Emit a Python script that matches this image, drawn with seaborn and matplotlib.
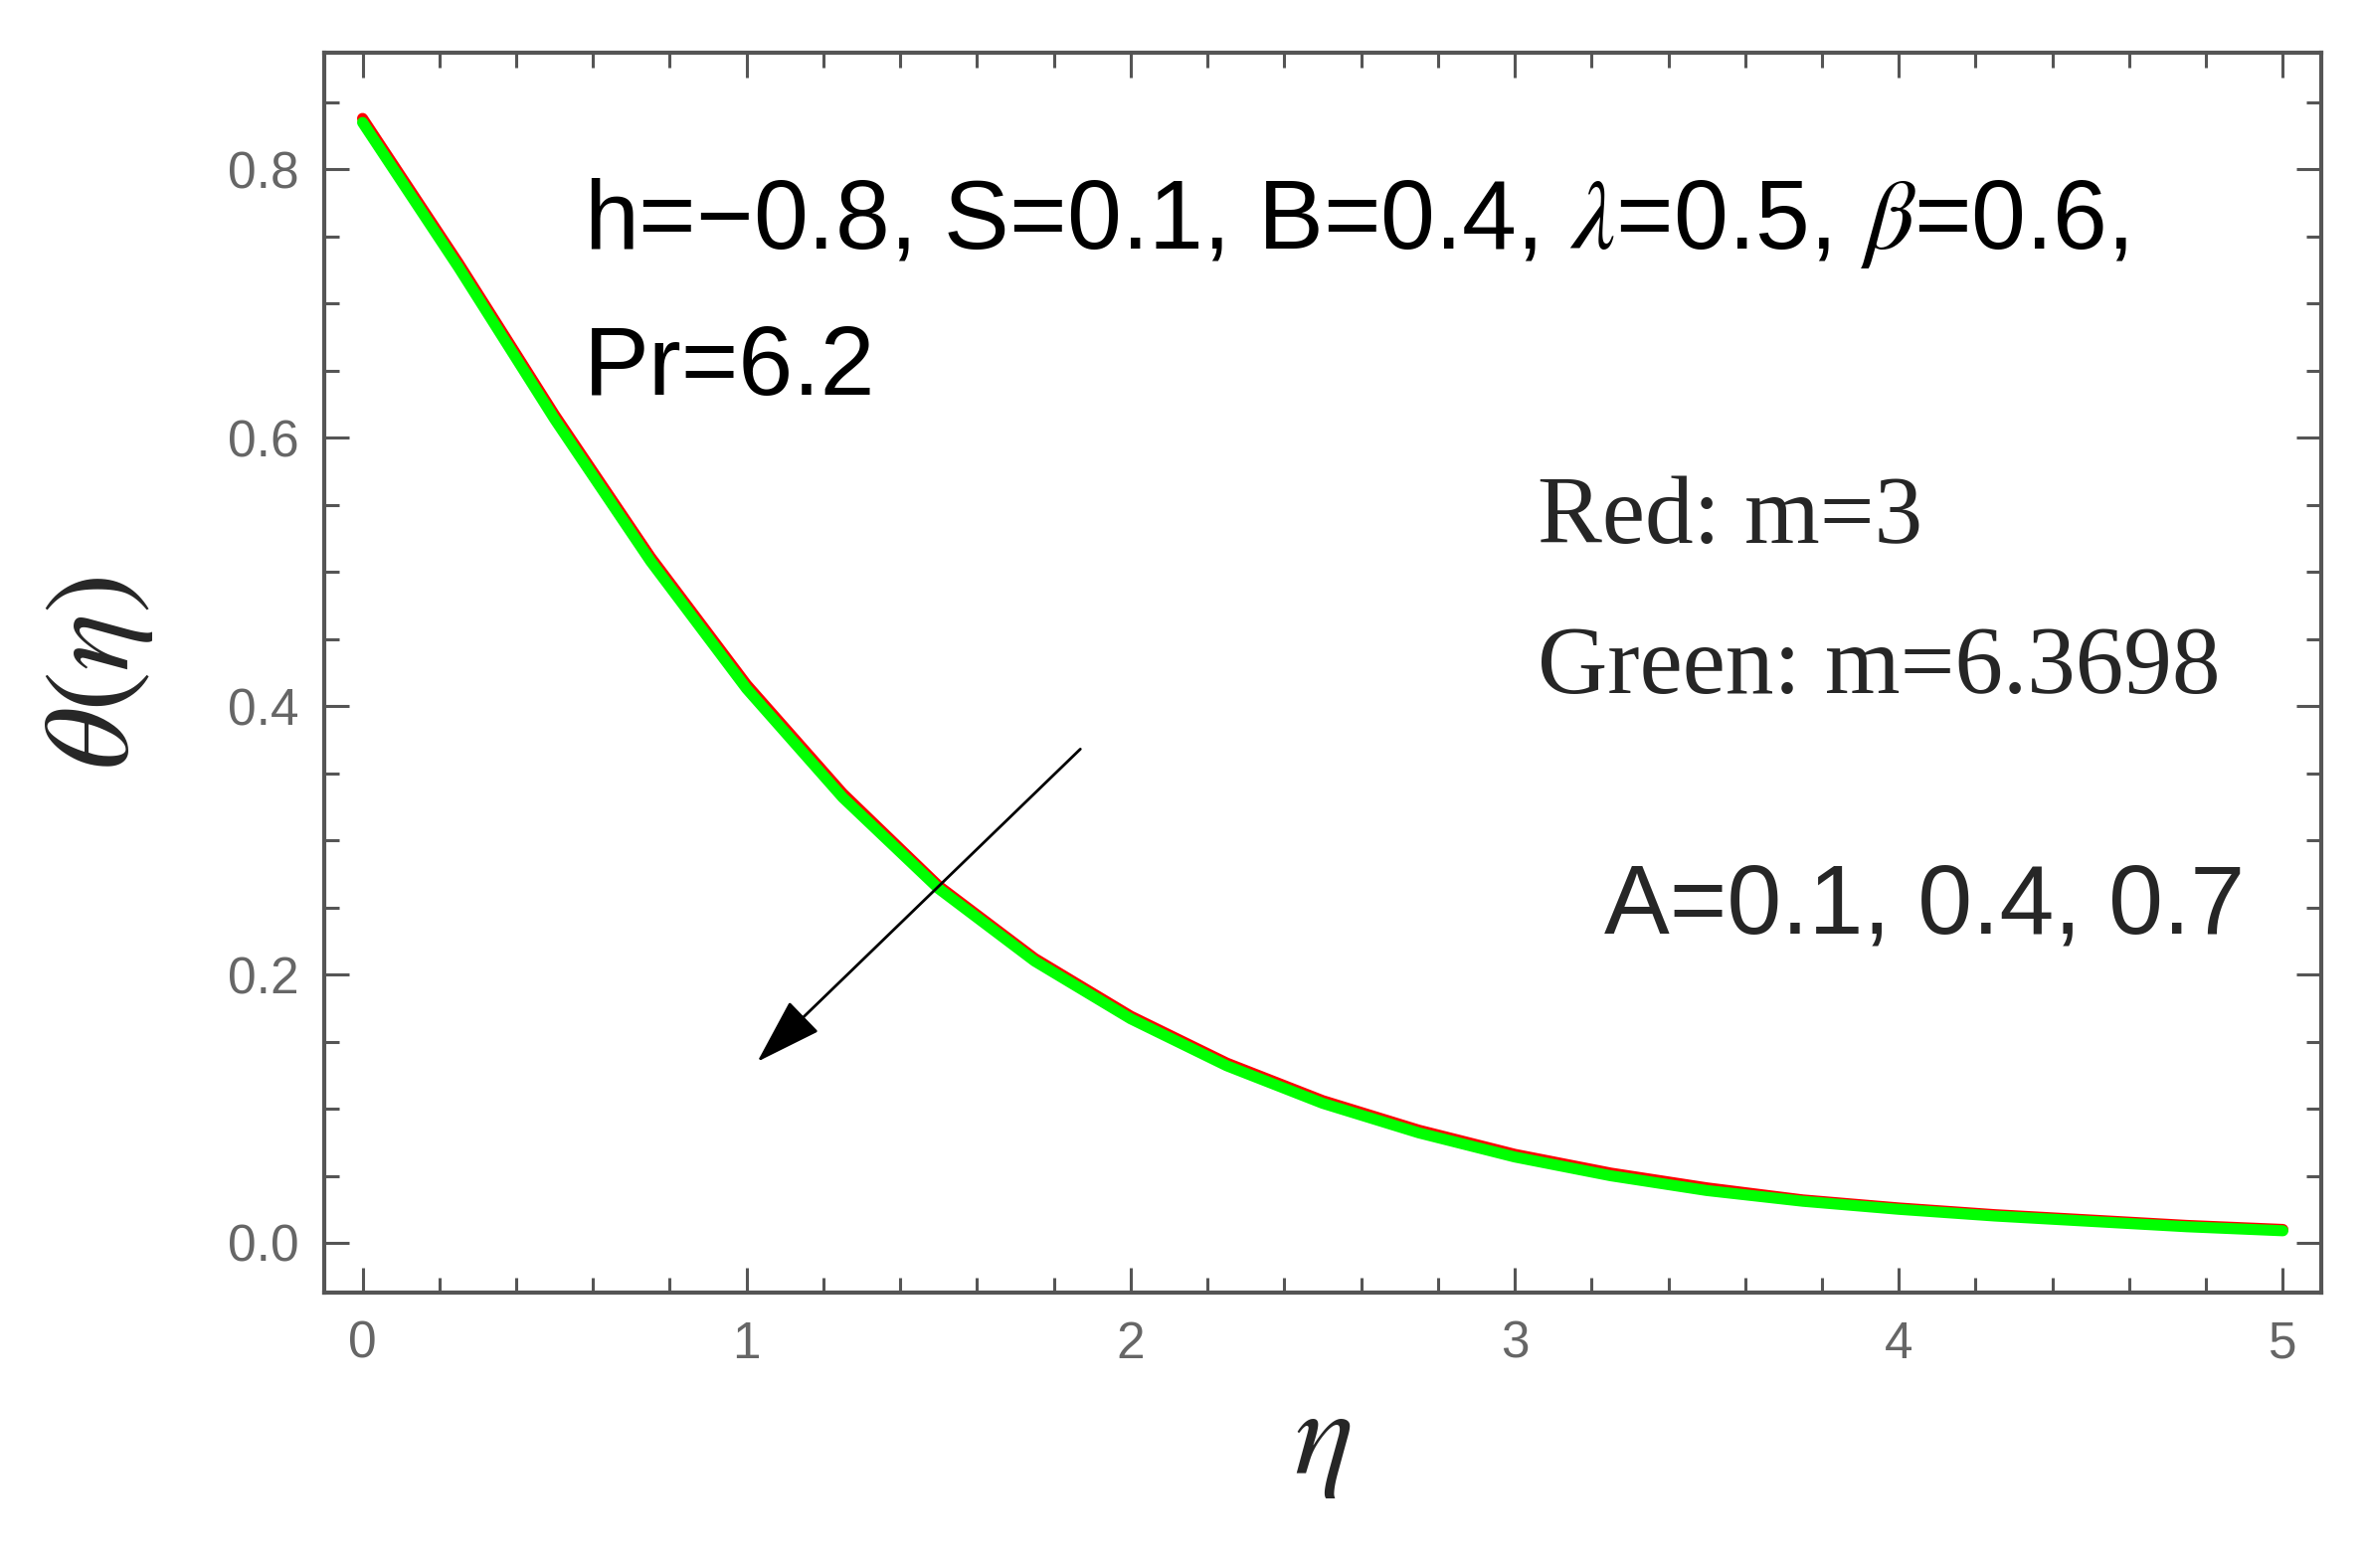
import numpy as np
import pandas as pd
import matplotlib
matplotlib.use("Agg")
import matplotlib.pyplot as plt
from matplotlib.ticker import MultipleLocator
import seaborn as sns

# data
eta = [0.0, 0.25, 0.5, 0.75, 1.0, 1.25, 1.5, 1.75, 2.0, 2.25, 2.5,
       2.75, 3.0, 3.25, 3.5, 3.75, 4.0, 4.25, 4.5, 4.75, 5.0]
theta_green = [0.835, 0.727, 0.614, 0.508, 0.413, 0.332, 0.264, 0.210, 0.167, 0.132, 0.104,
               0.082, 0.064, 0.050, 0.039, 0.031, 0.025, 0.020, 0.016, 0.012, 0.009]
theta_red = [0.838, 0.730, 0.617, 0.511, 0.416, 0.335, 0.266, 0.212, 0.169, 0.134, 0.106,
             0.084, 0.066, 0.052, 0.041, 0.032, 0.026, 0.021, 0.017, 0.013, 0.010]

params_line1 = r"h=−0.8, S=0.1, B=0.4, $\lambda$=0.5, $\beta$=0.6,"
params_line2 = "Pr=6.2"
red_label = "Red: m=3"
green_label = "Green: m=6.3698"
a_label = "A=0.1, 0.4, 0.7"

sns.set_style("ticks")
plt.rcParams['font.family'] = ['Liberation Sans', 'DejaVu Sans']
plt.rcParams['mathtext.fontset'] = 'stix'

df_red = pd.DataFrame({"eta": eta, "theta": theta_red})
df_green = pd.DataFrame({"eta": eta, "theta": theta_green})

fig = plt.figure(figsize=(23.79, 15.77), dpi=100)
ax = fig.add_axes([0.137, 0.1757, 0.9811 - 0.137, 0.9664 - 0.1757])

# red first, green on top (they almost overlap)
sns.lineplot(data=df_red, x="eta", y="theta", color="#ff0000", lw=8, ax=ax)
sns.lineplot(data=df_green, x="eta", y="theta", color="#00ff00", lw=8, ax=ax)

ax.set_xlim(-0.1, 5.1)
ax.set_ylim(-0.037, 0.887)

# frame like Mathematica
frame_col = "#555555"
for sp in ax.spines.values():
    sp.set_color(frame_col)
    sp.set_linewidth(3)
ax.xaxis.set_major_locator(MultipleLocator(1))
ax.xaxis.set_minor_locator(MultipleLocator(0.2))
ax.yaxis.set_major_locator(MultipleLocator(0.2))
ax.yaxis.set_minor_locator(MultipleLocator(0.05))
ax.tick_params(which='both', direction='in', top=True, right=True, color=frame_col,
               width=2.2, labelcolor="#666666", labelsize=37)
ax.tick_params(which='major', length=18)
ax.tick_params(which='minor', length=11)
ax.tick_params(axis='x', pad=20)
ax.tick_params(axis='y', pad=18)

ax.set_xlabel(r"$\eta$", fontsize=90)
ax.set_ylabel(r"$\theta(\eta)$", fontsize=88)
ax.xaxis.set_label_coords(0.5, -0.075)
ax.yaxis.set_label_coords(-0.113, 0.5)
ax.yaxis.label.set_verticalalignment('center')

ax.text(0.575, 0.741, params_line1, fontsize=71, color="black")
ax.text(0.575, 0.632, params_line2, fontsize=71, color="black")
ax.text(3.06, 0.522, red_label, fontsize=70, family="Liberation Serif")
ax.text(3.06, 0.410, green_label, fontsize=70, family="Liberation Serif")
ax.text(3.232, 0.231, a_label, fontsize=71)

ax.annotate("", xy=(1.028, 0.135), xytext=(1.869, 0.368),
            arrowprops=dict(arrowstyle="-|>,head_length=0.85,head_width=0.27",
                            mutation_scale=50, lw=2, color="black",
                            shrinkA=0, shrinkB=0))

fig.savefig("out.png", dpi=100)
